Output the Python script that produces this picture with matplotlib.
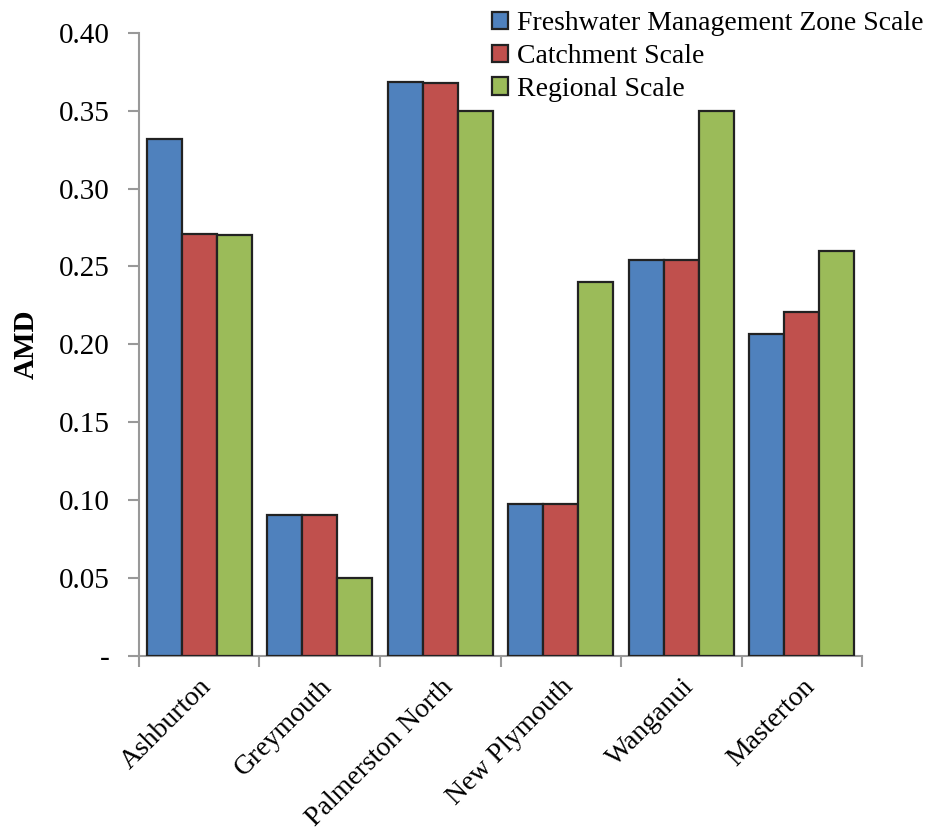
import matplotlib.pyplot as plt
import numpy as np
from matplotlib.ticker import FuncFormatter

# données
villes = ["Ashburton", "Greymouth", "Palmerston North", "New Plymouth", "Wanganui", "Masterton"]
fmz = [0.332, 0.0905, 0.3685, 0.0975, 0.254, 0.207]
catchment = [0.271, 0.0905, 0.368, 0.0975, 0.254, 0.221]
regional = [0.270, 0.050, 0.350, 0.240, 0.350, 0.260]
series = ["Freshwater Management Zone Scale", "Catchment Scale", "Regional Scale"]
couleurs = ["#4f81bd", "#c0504d", "#9bbb59"]

plt.rcParams['font.family'] = ['Liberation Serif', 'DejaVu Serif']

fig = plt.figure(figsize=(9.26, 8.38), dpi=100)
ax = fig.add_axes([0.150, 0.217, 0.781, 0.744])

x = np.arange(len(villes))
w = 0.29
for i, (vals, nom) in enumerate(zip([fmz, catchment, regional], series)):
    ax.bar(x + (i - 1) * w, vals, w, color=couleurs[i], edgecolor="#222222",
           linewidth=1.6, label=nom, zorder=3)

ax.set_xlim(-0.5, len(villes) - 0.5)
ax.set_ylim(0, 0.40)
ax.set_yticks(np.arange(0, 0.401, 0.05))
ax.yaxis.set_major_formatter(FuncFormatter(lambda v, p: "-" if abs(v) < 1e-9 else "%.2f" % v))

# graduations aux limites des catégories (style Excel)
ax.set_xticks(np.arange(-0.5, len(villes), 1.0))
ax.set_xticklabels([])
ax.set_xticks(x, minor=True)
ax.set_xticklabels(villes, minor=True, rotation=45, ha="right", rotation_mode="anchor", fontsize=20)
ax.tick_params(axis="x", which="minor", length=0, pad=13)
ax.tick_params(axis="x", which="major", length=8, width=1.5, color="#999999", direction="out")
ax.tick_params(axis="y", length=8, width=1.5, color="#999999", labelsize=21, pad=13)

for s in ["top", "right"]:
    ax.spines[s].set_visible(False)
for s in ["left", "bottom"]:
    ax.spines[s].set_color("#999999")
    ax.spines[s].set_linewidth(1.5)

ax.set_ylabel("AMD", fontsize=21, fontweight="bold", labelpad=14)

fig.legend(loc="upper left", bbox_to_anchor=(0.516, 1.003), frameon=False, fontsize=20,
           handlelength=0.6, handleheight=0.6, handletextpad=0.3, labelspacing=0.28,
           borderaxespad=0.1)

fig.savefig("out.png", dpi=100)
